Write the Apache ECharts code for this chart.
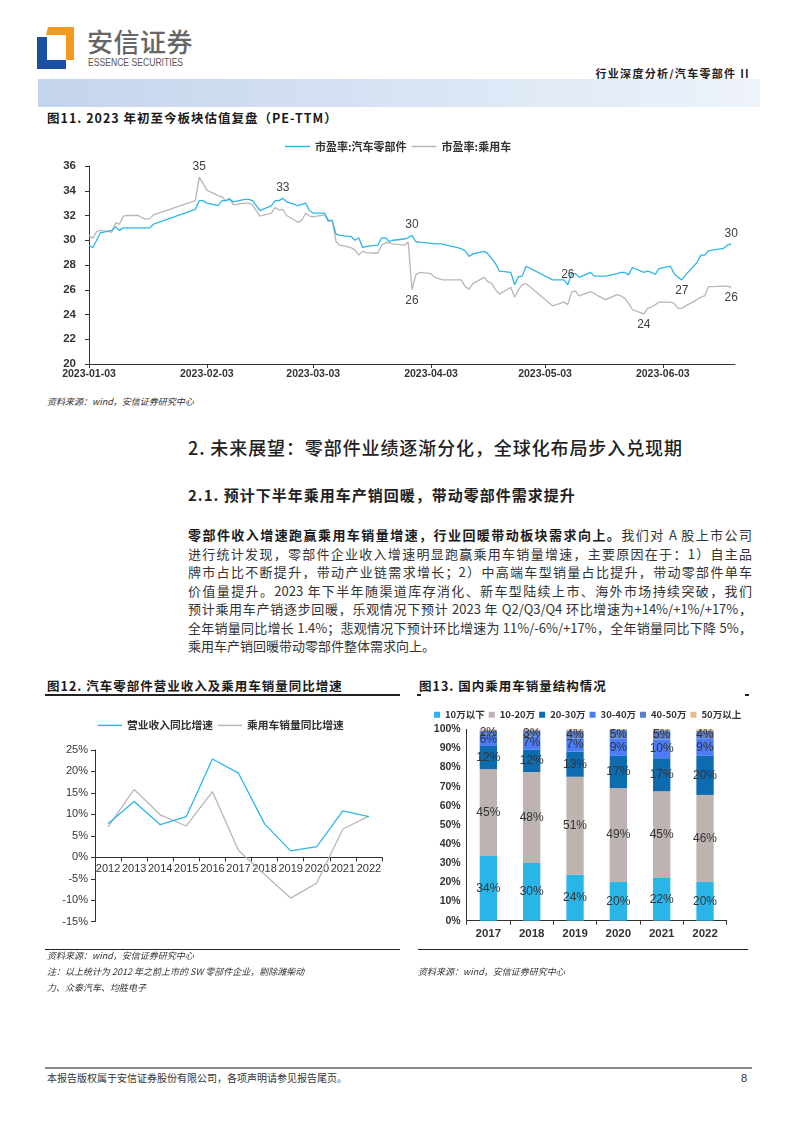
<!DOCTYPE html>
<html><head><meta charset="utf-8">
<script src="https://cdn.jsdelivr.net/npm/echarts@6/dist/echarts.min.js"></script>
<style>
body{margin:0;background:#fff;}
#page{position:relative;width:794px;height:1123px;overflow:hidden;font-family:"Noto Sans CJK SC","Noto Sans",sans-serif;color:#222;background:#fff;}
.abs{position:absolute;white-space:nowrap;}
.ttl{font-size:12.5px;font-weight:700;letter-spacing:1px;color:#1a1a1a;}
.src{font-size:9px;font-style:italic;color:#333;}
.pl{position:absolute;left:188px;width:564px;font-size:13px;line-height:18px;color:#333;text-align:justify;text-align-last:justify;white-space:nowrap;}
.pl.last{text-align-last:left;}
.chart{position:absolute;left:0;width:794px;}
</style></head>
<body><div id="page">
<!-- header -->
<svg class="abs" style="left:37px;top:22px" width="40" height="50" viewBox="0 0 40 50">
<path d="M11,5 L37,5 L37,38 L29,38 L29,13 L9,13 Z" fill="#F39A1E"/>
<path d="M0,15 L10,15 L10,38 L29,38 L29,47 L0,47 Z" fill="#1B4FA3"/>
</svg>
<div class="abs" style="left:87px;top:24px;font-size:26px;letter-spacing:0.5px;color:#666;font-weight:500;line-height:34px;">安信证券</div>
<div class="abs" style="left:88px;top:57px;font-size:10px;color:#555;font-family:'Liberation Sans',sans-serif;line-height:12px;transform:scaleX(0.86);transform-origin:0 0;">ESSENCE SECURITIES</div>
<div class="abs" style="right:44px;top:66px;font-size:11px;font-weight:700;letter-spacing:1.3px;color:#222;line-height:14px;">行业深度分析/汽车零部件 II</div>
<div class="abs" style="left:38px;top:79px;width:722px;height:28px;background:linear-gradient(to right,#c4d4ed 0%,#d6e2f3 45%,#eef3fa 100%);"></div>

<!-- fig 11 -->
<div class="abs ttl" style="left:47px;top:110px;line-height:16px;">图11. 2023 年初至今板块估值复盘（PE-TTM）</div>
<div id="c11" class="chart" style="top:130px;height:265px;"></div>
<div class="abs src" style="left:47px;top:395px;line-height:14px;">资料来源：wind，安信证券研究中心</div>

<!-- section text -->
<div class="abs" style="left:188px;top:435px;font-size:18px;font-weight:500;letter-spacing:0.9px;color:#222;line-height:24px;">2. 未来展望：零部件业绩逐渐分化，全球化布局步入兑现期</div>
<div class="abs" style="left:188px;top:485px;font-size:15px;font-weight:700;letter-spacing:1px;color:#222;line-height:20px;">2.1. 预计下半年乘用车产销回暖，带动零部件需求提升</div>
<div class="pl" style="top:526px;"><b style="color:#1a1a1a">零部件收入增速跑赢乘用车销量增速，行业回暖带动板块需求向上。</b>我们对 A 股上市公司</div>
<div class="pl" style="top:544.5px;">进行统计发现，零部件企业收入增速明显跑赢乘用车销量增速，主要原因在于：1）自主品</div>
<div class="pl" style="top:563px;">牌市占比不断提升，带动产业链需求增长；2）中高端车型销量占比提升，带动零部件单车</div>
<div class="pl" style="top:581.5px;">价值量提升。2023 年下半年随渠道库存消化、新车型陆续上市、海外市场持续突破，我们</div>
<div class="pl" style="top:600px;">预计乘用车产销逐步回暖，乐观情况下预计 2023 年 Q2/Q3/Q4 环比增速为+14%/+1%/+17%，</div>
<div class="pl" style="top:618.5px;">全年销量同比增长 1.4%；悲观情况下预计环比增速为 11%/-6%/+17%，全年销量同比下降 5%，</div>
<div class="pl last" style="top:637px;">乘用车产销回暖带动零部件整体需求向上。</div>

<!-- fig 12 / 13 titles -->
<div class="abs ttl" style="left:47px;top:677px;line-height:18px;">图12. 汽车零部件营业收入及乘用车销量同比增速</div>
<div class="abs" style="left:45px;top:694px;width:355px;height:1.5px;background:#222;"></div>
<div class="abs ttl" style="left:419px;top:677px;line-height:18px;">图13. 国内乘用车销量结构情况</div>
<div class="abs" style="left:417px;top:694px;width:4px;height:1.5px;background:#222;"></div>
<div class="abs" style="left:745px;top:694px;width:4px;height:1.5px;background:#222;"></div>
<div id="c12" class="chart" style="top:700px;height:240px;"></div>
<div id="c13" class="chart" style="top:700px;height:240px;left:0;"></div>

<!-- notes -->
<div class="abs" style="left:45px;top:949px;width:355px;height:1px;background:#222;"></div>
<div class="abs" style="left:418px;top:949px;width:330px;height:1px;background:#222;"></div>
<div class="abs src" style="left:47px;top:949px;line-height:14px;">资料来源：wind，安信证券研究中心</div>
<div class="abs src" style="left:47px;top:965px;line-height:14px;">注：以上统计为 2012 年之前上市的 SW 零部件企业，剔除潍柴动</div>
<div class="abs src" style="left:47px;top:981px;line-height:14px;">力、众泰汽车、均胜电子</div>
<div class="abs src" style="left:418px;top:965px;line-height:14px;">资料来源：wind，安信证券研究中心</div>

<!-- footer -->
<div class="abs" style="left:45px;top:1067px;width:707px;height:2px;background:#888;"></div>
<div class="abs" style="left:47px;top:1071px;font-size:10px;color:#333;line-height:14px;">本报告版权属于安信证券股份有限公司，各项声明请参见报告尾页。</div>
<div class="abs" style="left:741px;top:1071px;font-size:11px;color:#333;line-height:14px;font-family:'Liberation Sans',sans-serif;">8</div>
</div>
<script>
// ---------- Figure 11 data ----------
const dates11 = ['2023-01-03','2023-01-04','2023-01-05','2023-01-06','2023-01-09','2023-01-10','2023-01-11','2023-01-12','2023-01-13','2023-01-16','2023-01-17','2023-01-18','2023-01-19','2023-01-20','2023-01-31','2023-02-01','2023-02-02','2023-02-03','2023-02-06','2023-02-07','2023-02-08','2023-02-09','2023-02-10','2023-02-13','2023-02-14','2023-02-15','2023-02-16','2023-02-17','2023-02-20','2023-02-21','2023-02-22','2023-02-23','2023-02-24','2023-02-27','2023-02-28','2023-03-01','2023-03-02','2023-03-03','2023-03-06','2023-03-07','2023-03-08','2023-03-09','2023-03-10','2023-03-13','2023-03-14','2023-03-15','2023-03-16','2023-03-17','2023-03-20','2023-03-21','2023-03-22','2023-03-23','2023-03-24','2023-03-27','2023-03-28','2023-03-29','2023-03-30','2023-03-31','2023-04-03','2023-04-04','2023-04-06','2023-04-07','2023-04-10','2023-04-11','2023-04-12','2023-04-13','2023-04-14','2023-04-17','2023-04-18','2023-04-19','2023-04-20','2023-04-21','2023-04-24','2023-04-25','2023-04-26','2023-04-27','2023-04-28','2023-05-05','2023-05-08','2023-05-09','2023-05-10','2023-05-11','2023-05-12','2023-05-15','2023-05-16','2023-05-17','2023-05-19','2023-05-22','2023-05-23','2023-05-24','2023-05-25','2023-05-26','2023-05-29','2023-05-30','2023-05-31','2023-06-01','2023-06-02','2023-06-05','2023-06-06','2023-06-07','2023-06-08','2023-06-09','2023-06-12','2023-06-13','2023-06-14','2023-06-15','2023-06-16','2023-06-19','2023-06-20','2023-06-21'];
const peParts = [29.6,29.4,30.0,30.6,30.8,31.1,30.8,31.0,31.0,31.0,31.0,31.0,31.0,31.3,
32.5,33.2,33.2,33.0,32.8,33.2,33.2,33.3,33.1,33.3,33.3,33.2,32.8,32.4,32.8,33.2,33.2,33.4,33.1,32.8,32.9,33.0,32.4,32.2,32.2,31.6,31.6,
30.5,30.4,30.3,30.0,30.2,29.4,29.5,29.6,30.2,30.2,29.9,30.0,30.1,30.2,30.4,29.9,29.85,
29.75,29.7,29.7,29.6,29.4,29.3,29.15,28.7,28.9,29.1,28.9,28.5,28.1,27.5,27.4,26.4,27.05,27.1,27.9,
26.8,26.8,26.4,27.3,27.3,27.0,27.4,27.1,27.1,27.1,27.3,27.4,27.4,27.2,27.8,27.4,27.5,27.4,27.25,27.7,
27.9,27.3,27.0,26.8,27.2,28.2,28.8,28.8,29.15,29.2,29.35,29.6,29.7];
const pePassenger = [30.4,30.15,30.7,30.8,30.65,31.4,31.3,31.95,32.0,32.0,31.8,31.7,31.75,32.05,
33.2,35.1,34.6,34.05,33.6,33.5,33.2,33.4,32.85,33.0,33.0,32.85,32.4,31.95,32.2,32.65,32.45,32.5,32.0,31.45,31.6,32.2,31.95,31.9,32.05,31.5,31.6,
29.9,29.6,29.4,29.2,28.8,29.1,29.0,28.95,29.6,29.8,29.8,29.7,29.6,29.85,26.0,27.2,27.4,
27.3,27.0,26.8,26.8,26.8,26.8,26.25,26.05,26.5,27.0,26.65,26.5,26.0,25.65,26.2,25.4,26.0,26.4,26.5,
24.7,25.0,24.8,25.8,25.9,25.5,25.85,25.7,25.5,25.2,25.6,25.5,25.3,24.9,24.4,24.05,24.5,24.6,24.8,25.0,
25.0,24.9,24.5,24.5,24.7,25.2,25.4,25.5,26.25,26.25,26.3,26.3,26.2];
const tickLabels11 = ['2023-01-03','2023-02-03','2023-03-03','2023-04-03','2023-05-03','2023-06-03'];
const names11 = ['市盈率:汽车零部件','市盈率:乘用车'];
// annotated points: [series index, date, label position]
const notes11 = [[1,'2023-02-01','top'],[0,'2023-02-23','top'],[0,'2023-03-29','top'],[1,'2023-03-29','bottom'],[0,'2023-05-09','top'],[1,'2023-05-29','bottom'],[0,'2023-06-08','bottom'],[0,'2023-06-21','top'],[1,'2023-06-21','bottom']];

// ---------- Figure 12 data ----------
const years12 = ['2012','2013','2014','2015','2016','2017','2018','2019','2020','2021','2022'];
const revenueGrowth = [7.8,13.0,7.6,9.5,22.9,19.6,7.8,1.5,2.5,10.8,9.5];
const salesGrowth = [7.1,15.8,9.9,7.3,15.3,1.6,-4.0,-9.5,-6.0,6.6,9.6];
const names12 = ['营业收入同比增速','乘用车销量同比增速'];

// ---------- Figure 13 data ----------
const years13 = ['2017','2018','2019','2020','2021','2022'];
const segNames = ['10万以下','10-20万','20-30万','30-40万','40-50万','50万以上'];
const segBelow10 = [33.8,30.1,24.0,20.2,22.3,20.2];
const seg10to20 = [45.4,47.6,51.2,49.1,45.4,45.5];
const seg20to30 = [12.1,11.8,13.1,16.8,17.2,20.4];
const seg30to40 = [6.1,6.8,7.0,9.0,9.8,9.0];
const seg40to50 = [2.0,3.2,4.0,4.6,4.8,4.0];
const seg50plus = [0.6,0.5,0.7,0.3,0.5,0.9];

// ---------- helpers ----------
const t0 = Date.parse('2023-01-03T00:00:00Z');
const dayOf = d => Math.round((Date.parse(d + 'T00:00:00Z') - t0) / 86400000);
const tickDays = tickLabels11.map(dayOf);
const BLUE = '#2DB6E8', GREY = '#BDB5B5', AX = '#333';
const numFont = 'Liberation Sans, Arial, sans-serif';
const cjk = 'Noto Sans CJK SC, sans-serif';

// ---------- chart 11 ----------
(function(){
  const c = echarts.init(document.getElementById('c11'), null, {renderer:'canvas'});
  const seriesVals = [peParts, pePassenger];
  const mk = idx => notes11.filter(n => n[0] === idx).map(n => {
    const i = dates11.indexOf(n[1]);
    const v = seriesVals[idx][i];
    return {coord:[dayOf(n[1]), v], value: Math.round(v), label:{position:n[2]}};
  });
  c.setOption({
    animation:false,
    grid:{left:89,right:59,top:36,bottom:31,outerBoundsMode:'none'},
    legend:{top:11,left:285,padding:0,itemGap:5,itemWidth:25,itemHeight:1.5,icon:'rect',
      textStyle:{fontFamily:cjk,fontSize:11,fontWeight:'bold',color:'#333',padding:[0,10,0,0]},data:names11},
    xAxis:{type:'value',min:0,max:170,
      axisLine:{lineStyle:{color:AX,width:1}},
      axisTick:{show:true,customValues:tickDays,length:4,lineStyle:{color:AX}},
      axisLabel:{customValues:tickDays,formatter:v=>tickLabels11[tickDays.indexOf(Math.round(v))]||'',
        fontFamily:numFont,fontSize:10.5,fontWeight:'bold',color:'#333',margin:5},
      splitLine:{show:false}},
    yAxis:{type:'value',min:20,max:36,interval:2,
      axisLine:{show:true,lineStyle:{color:AX}},
      axisTick:{show:true,length:4,lineStyle:{color:AX}},
      axisLabel:{fontFamily:numFont,fontSize:11.5,fontWeight:'bold',color:'#333',margin:13},
      splitLine:{show:false}},
    series:[0,1].map(k=>({
      name:names11[k],type:'line',symbol:'none',
      data:dates11.map((d,i)=>[dayOf(d), seriesVals[k][i]]),
      lineStyle:{color:k?GREY:BLUE,width:1.3},itemStyle:{color:k?GREY:BLUE},
      z:k?2:3,
      markPoint:{symbol:'circle',symbolSize:1,itemStyle:{color:'rgba(0,0,0,0)'},
        label:{show:true,distance:4,fontFamily:numFont,fontSize:12,color:'#404040',formatter:p=>p.value},
        data:mk(k)}
    }))
  });
})();

// ---------- chart 12 ----------
(function(){
  const c = echarts.init(document.getElementById('c12'));
  const gTop = 50, gBottom = 18.3, yMin = -15, yMax = 25;
  const gH = 240 - gTop - gBottom;
  const zeroOffset = -gH * (0 - yMin) / (yMax - yMin);
  c.setOption({
    animation:false,
    grid:{left:95,right:412,top:gTop,bottom:gBottom,outerBoundsMode:'none'},
    legend:{top:20,left:98,padding:0,itemGap:5,itemWidth:24,itemHeight:1.5,icon:'rect',
      textStyle:{fontFamily:cjk,fontSize:10.75,fontWeight:'bold',color:'#333',padding:[0,14,0,0]},data:names12},
    xAxis:{type:'category',data:years12,boundaryGap:true,offset:zeroOffset,
      axisLine:{onZero:false,lineStyle:{color:AX}},
      axisTick:{show:true,length:4,lineStyle:{color:AX}},
      axisLabel:{fontFamily:numFont,fontSize:11,color:'#333',margin:6,interval:0}},
    yAxis:{type:'value',min:yMin,max:yMax,interval:5,
      axisLine:{show:true,lineStyle:{color:AX}},
      axisTick:{show:true,length:4,lineStyle:{color:AX}},
      axisLabel:{fontFamily:numFont,fontSize:11,color:'#333',margin:7,formatter:v=>v+'%'},
      splitLine:{show:false}},
    series:[
      {name:names12[0],type:'line',symbol:'none',data:revenueGrowth,lineStyle:{color:BLUE,width:1.3},itemStyle:{color:BLUE},z:3},
      {name:names12[1],type:'line',symbol:'none',data:salesGrowth,lineStyle:{color:GREY,width:1.3},itemStyle:{color:GREY},z:2}
    ]
  });
})();

// ---------- chart 13 ----------
(function(){
  const el = document.getElementById('c13');
  const c = echarts.init(el);
  const segs = [segBelow10,seg10to20,seg20to30,seg30to40,seg40to50,seg50plus];
  const colors = ['#29B5E8','#BDB3B1','#0D6BAF','#4C7CF6','#5C7FCB','#E5BC90'];
  c.setOption({
    animation:false,
    grid:{left:466.7,right:67.3,top:29.3,bottom:19.3,outerBoundsMode:'none'},
    legend:{top:10,left:434,padding:0,itemGap:4,itemWidth:6,itemHeight:6,icon:'rect',
      textStyle:{fontFamily:cjk,fontSize:9.5,fontWeight:'bold',color:'#333'},data:segNames},
    xAxis:{type:'category',data:years13,
      axisLine:{lineStyle:{color:AX}},
      axisTick:{show:true,length:4,lineStyle:{color:AX}},
      axisLabel:{fontFamily:numFont,fontSize:11.5,fontWeight:'bold',color:'#333',margin:7}},
    yAxis:{type:'value',min:0,max:100,interval:10,
      axisLine:{show:true,lineStyle:{color:AX}},
      axisTick:{show:false},
      axisLabel:{fontFamily:numFont,fontSize:10.5,fontWeight:'bold',color:'#333',margin:6,formatter:v=>v+'%'},
      splitLine:{show:false}},
    series:segs.map((d,k)=>({
      name:segNames[k],type:'bar',stack:'s',data:d,barWidth:'40%',
      itemStyle:{color:colors[k]},
      label:{show:k<5,position:'inside',fontFamily:numFont,fontSize:12,color:'#333',
        formatter:p=>Math.round(p.value)+'%'}
    }))
  });
})();
</script>
</body></html>
